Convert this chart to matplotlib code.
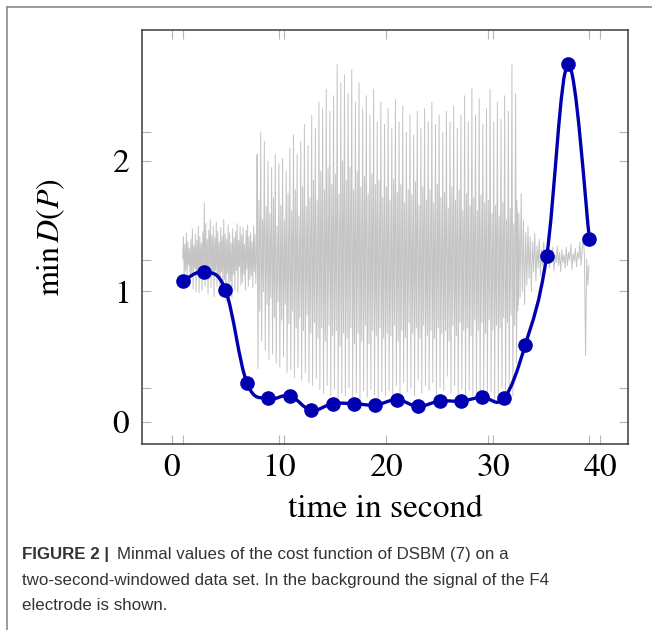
import numpy as np
import matplotlib
matplotlib.use("Agg")
import matplotlib.pyplot as plt
from matplotlib.path import Path
from matplotlib.patches import PathPatch
from matplotlib.lines import Line2D

plt.rcParams["font.family"] = "STIXGeneral"
plt.rcParams["mathtext.fontset"] = "stix"
plt.rcParams["axes.formatter.use_mathtext"] = True

# min D(P) per two-second window (window centres in seconds)
t_win = [1, 3, 5, 7, 9, 11, 13, 15, 17, 19, 21, 23, 25, 27, 29, 31, 33, 35, 37, 39]
min_d = [1.08, 1.15, 1.01, 0.30, 0.18, 0.20, 0.09, 0.14, 0.14, 0.13,
         0.17, 0.12, 0.16, 0.16, 0.19, 0.18, 0.59, 1.27, 2.74, 1.40]

# F4 electrode signal (background)
sig_pre = [1.25, 1.42, 1.10, 1.36, 1.16, 1.45, 1.08, 1.38, 1.20, 1.33,
           1.06, 1.40, 1.14, 1.48, 1.02, 1.35, 1.18, 1.44, 1.00, 1.39,
           1.12, 1.50, 0.99, 1.42, 1.17, 1.37, 1.01, 1.46, 1.10, 1.68,
           1.04, 1.52, 1.14, 1.40, 0.98, 1.47, 1.19, 1.55, 1.03, 1.43,
           1.12, 1.50, 0.96, 1.41, 1.16, 1.53, 1.04, 1.46, 1.10, 1.38,
           0.97, 1.49, 1.15, 1.42, 1.00, 1.55, 1.09, 1.44, 0.93, 1.40,
           1.14, 1.51, 0.91, 1.45, 1.08, 1.37, 0.95, 1.48, 1.13, 1.41,
           1.01, 1.46, 1.16, 1.52, 0.99, 1.39, 1.19, 1.50, 1.05, 1.43,
           1.07, 1.49, 1.13, 1.36, 1.01, 1.47, 1.17, 1.51, 1.04, 1.42,
           1.09, 1.45, 1.12, 1.38, 1.03, 1.50, 1.15, 1.44, 1.06, 1.30]
# seizure: spike tops / bottoms, three spikes per second from 8 s to 32 s
spike_hi = [2.05, 2.22, 2.15, 2.00, 1.95, 2.05, 1.98, 2.02, 1.92, 2.10, 2.20, 2.05,
            2.15, 2.28, 2.12, 2.35, 2.25, 2.45, 2.40, 2.55, 2.38, 2.50, 2.74, 2.60,
            2.66, 2.52, 2.70, 2.45, 2.60, 2.40, 2.50, 2.35, 2.55, 2.30, 2.45, 2.28,
            2.40, 2.25, 2.47, 2.30, 2.42, 2.22, 2.35, 2.20, 2.38, 2.25, 2.40, 2.30,
            2.45, 2.28, 2.35, 2.22, 2.38, 2.30, 2.42, 2.25, 2.35, 2.50, 2.30, 2.56,
            2.35, 2.48, 2.28, 2.40, 2.55, 2.30, 2.45, 2.32, 2.50, 2.38, 2.74, 2.52]
spike_lo = [0.41, 0.62, 0.55, 0.48, 0.52, 0.45, 0.42, 0.50, 0.38, 0.40, 0.34, 0.42,
            0.32, 0.38, 0.30, 0.28, 0.33, 0.25, 0.22, 0.28, 0.20, 0.25, 0.18, 0.22,
            0.20, 0.26, 0.18, 0.22, 0.17, 0.24, 0.19, 0.25, 0.21, 0.18, 0.23, 0.20,
            0.24, 0.19, 0.28, 0.21, 0.30, 0.23, 0.26, 0.20, 0.32, 0.22, 0.28, 0.24,
            0.30, 0.21, 0.26, 0.24, 0.35, 0.22, 0.28, 0.20, 0.25, 0.18, 0.24, 0.20,
            0.22, 0.16, 0.25, 0.19, 0.23, 0.17, 0.21, 0.26, 0.18, 0.24, 0.20, 0.45]
# dense middle band of the seizure, one pair per spike
band_hi = [1.70, 1.55, 1.65, 1.60, 1.72, 1.50, 1.66, 1.55, 1.75, 1.62, 1.78, 1.58,
           1.80, 1.65, 1.72, 1.85, 1.70, 1.92, 1.78, 1.95, 1.82, 1.90, 1.75, 2.00,
           1.85, 1.95, 1.78, 1.92, 1.80, 1.88, 1.75, 1.90, 1.82, 1.85, 1.72, 1.80,
           1.70, 1.86, 1.76, 1.82, 1.68, 1.78, 1.74, 1.84, 1.66, 1.80, 1.70, 1.78,
           1.68, 1.82, 1.72, 1.76, 1.64, 1.80, 1.70, 1.78, 1.62, 1.75, 1.66, 1.72,
           1.62, 1.74, 1.68, 1.70, 1.60, 1.66, 1.58, 1.68, 1.55, 1.64, 1.52, 1.60]
band_lo = [0.85, 1.00, 0.90, 0.95, 0.80, 0.92, 0.78, 0.90, 0.75, 0.85, 0.72, 0.80,
           0.70, 0.82, 0.68, 0.76, 0.64, 0.72, 0.62, 0.74, 0.66, 0.70, 0.58, 0.68,
           0.64, 0.72, 0.60, 0.68, 0.62, 0.74, 0.60, 0.70, 0.66, 0.72, 0.64, 0.68,
           0.66, 0.74, 0.62, 0.70, 0.65, 0.76, 0.68, 0.72, 0.64, 0.74, 0.66, 0.70,
           0.64, 0.72, 0.68, 0.70, 0.62, 0.74, 0.66, 0.76, 0.70, 0.72, 0.66, 0.78,
           0.70, 0.76, 0.68, 0.78, 0.70, 0.74, 0.72, 0.80, 0.76, 0.82, 0.74, 0.90]
sig_post = [1.70, 0.85, 1.60, 0.95, 1.75, 1.00, 1.55, 0.90, 1.45, 1.05,
            1.50, 1.10, 1.42, 1.00, 1.38, 1.15, 1.45, 1.08, 1.35, 1.18,
            1.40, 1.12, 1.32, 1.20, 1.38, 1.15, 1.30, 1.22, 1.36, 1.18,
            1.30, 1.24, 1.34, 1.16, 1.28, 1.22, 1.35, 1.20, 1.30, 1.15,
            1.32, 1.22, 1.28, 1.18, 1.34, 1.20, 1.30, 1.24, 1.36, 1.17,
            1.29, 1.23, 1.33, 1.19, 1.30, 1.25, 1.38, 1.20, 1.32, 1.42,
            1.28, 0.51, 1.25, 1.05, 1.20]

x_ticks = [0, 10, 20, 30, 40]
y_ticks = [0, 1, 2]
# ticks of the signal plot underneath
x_ticks_sig = [1.03, 10.47, 20.0, 29.5, 39.0]
y_ticks_sig = [0.26, 1.24, 2.22]

caption_bold = "FIGURE 2 |"
caption = ["Minmal values of the cost function of DSBM (7) on a",
           "two-second-windowed data set. In the background the signal of the F4",
           "electrode is shown."]

# signal polyline
t_pre = np.linspace(1.0, 7.9, len(sig_pre))
cyc = np.linspace(7.95, 32.1, len(spike_hi))
dt = cyc[1] - cyc[0]
t_sz = np.column_stack([cyc, cyc + dt / 4, cyc + dt / 2, cyc + 3 * dt / 4]).ravel()
v_sz = np.column_stack([spike_hi, spike_lo, band_hi, band_lo]).ravel()
t_post = np.linspace(32.2, 38.95, len(sig_post))
t_sig = np.concatenate([t_pre, t_sz, t_post])
v_sig = np.concatenate([sig_pre, v_sz, sig_post])


def smooth_path(x, y, tension=0.55):
    # same kind of curve as tikz "smooth"
    p = np.column_stack([x, y]).astype(float)
    verts = [p[0]]
    codes = [Path.MOVETO]
    k = tension / 3.0
    n = len(p)
    for i in range(n - 1):
        p0 = p[i - 1] if i > 0 else p[i]
        p3 = p[i + 2] if i + 2 < n else p[i + 1]
        verts += [p[i] + (p[i + 1] - p0) * k, p[i + 1] - (p3 - p[i]) * k, p[i + 1]]
        codes += [Path.CURVE4] * 3
    return Path(verts, codes)


fig = plt.figure(figsize=(6.52, 6.30), dpi=100)
ax = fig.add_axes([142 / 652, 1 - 444 / 630, 486 / 652, 414 / 630])

ax.plot(t_sig, v_sig, color="#c4c4c4", lw=0.7, zorder=1)

blue = "#0000b0"
ax.add_patch(PathPatch(smooth_path(t_win, min_d), facecolor="none",
                       edgecolor=blue, lw=2.4, zorder=3))
ax.plot(t_win, min_d, "o", color=blue, ms=9.5, zorder=4)

ax.set_xlim(-2.8, 42.6)
ax.set_ylim(-0.169, 3.004)
ax.set_xticks(x_ticks)
ax.set_yticks(y_ticks)
ax.set_xticks(x_ticks_sig, minor=True)
ax.set_yticks(y_ticks_sig, minor=True)
ax.tick_params(which="both", direction="in", top=True, right=True,
               length=6.8, width=0.8, color="#b5b5b5", labelsize=24)
ax.tick_params(axis="x", pad=7)
ax.tick_params(axis="y", pad=9)
for s in ax.spines.values():
    s.set_color("#3a3a3a")
    s.set_linewidth(1.1)

ax.set_xlabel("time in second", fontsize=24)
ax.xaxis.set_label_coords(0.5, -0.123)
ax.set_ylabel(r"$\min\, D(P)$", fontsize=23)
ax.yaxis.set_label_coords(-0.155, 0.5)

# panel border, top and left
fig.add_artist(Line2D([7 / 652, 7 / 652], [0, 1 - 7 / 630], color="#8a8a8a", lw=1.2))
fig.add_artist(Line2D([7 / 652, 1], [1 - 7 / 630, 1 - 7 / 630], color="#8a8a8a", lw=1.2))

cap_font = dict(family=["Liberation Sans", "DejaVu Sans"], fontsize=12.2, color="#333333",
                va="center")
fig.text(22 / 652, 1 - 554 / 630, caption_bold, fontweight="bold", **cap_font)
fig.text(117 / 652, 1 - 554 / 630, caption[0], **cap_font)
fig.text(22 / 652, 1 - 580 / 630, caption[1], **cap_font)
fig.text(22 / 652, 1 - 605 / 630, caption[2], **cap_font)

fig.savefig("out.png", dpi=100)
